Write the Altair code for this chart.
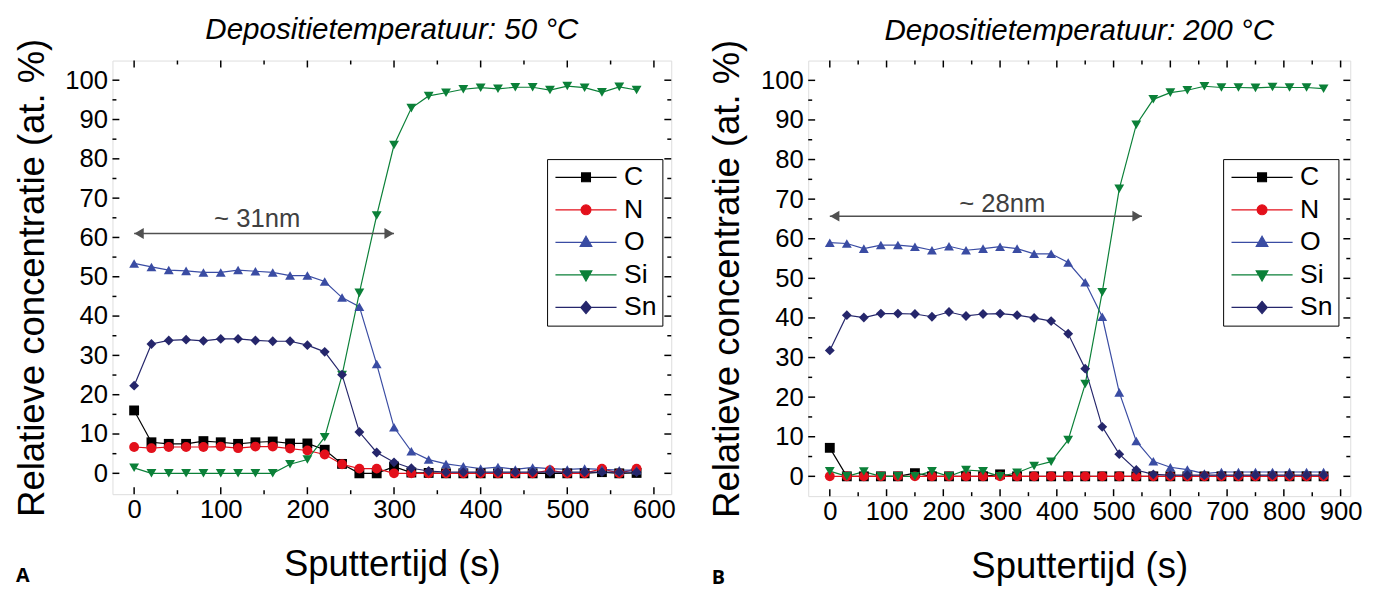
import altair as alt
import pandas as pd

FONT = "Liberation Sans"
ELEMENTS = ["C", "N", "O", "Si", "Sn"]
COLORS = ["#000000", "#e3101b", "#3a4ca3", "#0b8038", "#25266b"]
SHAPES = ["square", "circle", "triangle-up", "triangle-down", "diamond"]
# legend symbols: a line segment with the marker in its middle (scaled by sqrt(size)/2 = 10 px)
LEGEND_PATHS = [
    "M-3.1,0H3.1M-0.45,-0.45H0.45V0.45H-0.45Z",
    "M-3.1,0H3.1M-0.5,0A0.5,0.5,0,1,1,0.5,0A0.5,0.5,0,1,1,-0.5,0Z",
    "M-3.1,0H3.1M0,-0.62L0.59,0.4H-0.59Z",
    "M-3.1,0H3.1M0,0.62L0.59,-0.4H-0.59Z",
    "M-3.1,0H3.1M0,-0.62L0.53,0L0,0.62L-0.53,0Z",
]

# ---- Panel A: 50 °C ----
t_left = list(range(0, 600, 20))
C_left = [16.0, 7.9, 7.5, 7.5, 8.2, 7.9, 7.5, 7.9, 8.1, 7.6, 7.6, 6.0, 2.4, 0.0, 0.0,
          1.7, 0.2, 0.1, 0.0, 0.0, 0.0, 0.0, 0.0, 0.0, 0.0, 0.0, 0.0, 0.3, 0.0, 0.1]
N_left = [6.7, 6.4, 6.7, 6.7, 6.7, 6.8, 6.4, 6.8, 6.8, 6.3, 5.8, 4.8, 2.3, 1.2, 1.2,
          0.0, 0.0, 0.0, 0.0, 0.0, 0.0, 0.0, 0.0, 0.0, 0.8, 0.0, 0.0, 1.2, 0.0, 1.2]
O_left = [53.4, 52.5, 51.7, 51.5, 51.1, 51.1, 51.7, 51.4, 51.1, 50.3, 50.3, 48.8, 44.7, 42.4, 27.8,
          11.7, 5.6, 3.5, 2.4, 1.8, 1.2, 1.6, 1.0, 1.5, 1.2, 1.0, 1.2, 1.0, 0.8, 0.8]
Si_left = [1.4, 0.0, 0.0, 0.0, 0.0, 0.0, 0.0, 0.0, 0.0, 2.3, 3.5, 9.2, 25.0, 45.9, 65.6,
           83.5, 92.9, 96.0, 96.8, 97.7, 98.1, 97.8, 98.2, 98.2, 97.5, 98.5, 98.1, 96.9, 98.3, 97.5]
Sn_left = [22.3, 32.9, 33.8, 34.0, 33.7, 34.2, 34.2, 33.8, 33.6, 33.6, 32.6, 30.9, 25.1, 10.5, 5.3,
           2.8, 1.3, 0.6, 0.3, 0.3, 0.3, 0.3, 0.3, 0.3, 0.3, 0.3, 0.3, 0.3, 0.3, 0.3]

# ---- Panel B: 200 °C ----
t_right = list(range(0, 900, 30))
C_right = [7.2, 0.0, 0.0, 0.0, 0.0, 0.8, 0.0, 0.0, 0.0, 0.0, 0.5, 0.0, 0.0, 0.0, 0.0,
           0.0, 0.0, 0.0, 0.0, 0.0, 0.0, 0.0, 0.0, 0.0, 0.0, 0.0, 0.0, 0.0, 0.0, 0.0]
N_right = [0.0] * 30
O_right = [59.0, 58.8, 57.5, 58.4, 58.4, 58.0, 57.1, 58.1, 57.1, 57.5, 58.0, 57.5, 56.2, 56.2, 54.0,
           49.0, 40.3, 21.2, 8.9, 3.8, 2.3, 1.7, 0.7, 1.1, 1.1, 1.1, 1.1, 1.1, 1.1, 1.1]
Si_right = [1.3, 0.0, 1.2, 0.0, 0.0, 0.0, 1.3, 0.0, 1.6, 1.3, 0.0, 0.9, 2.6, 3.7, 9.2,
            23.3, 46.5, 72.6, 88.8, 95.2, 96.9, 97.5, 98.5, 98.2, 98.2, 98.1, 98.3, 98.2, 98.2, 97.9]
Sn_right = [31.8, 40.7, 40.1, 41.1, 41.1, 41.0, 40.3, 41.5, 40.5, 41.0, 41.1, 40.7, 40.0, 39.2, 36.0,
            27.2, 12.5, 5.6, 1.6, 0.5, 0.3, 0.3, 0.3, 0.3, 0.3, 0.3, 0.3, 0.3, 0.3, 0.3]

x_major_left = list(range(0, 700, 100))
x_minor_left = list(range(50, 600, 100))
x_major_right = list(range(0, 1000, 100))
x_minor_right = list(range(50, 900, 100))
y_major = list(range(0, 110, 10))
y_minor = list(range(5, 105, 10))


def long_df(t, series):
    rows = []
    for el, vals in zip(ELEMENTS, series):
        for ti, v in zip(t, vals):
            rows.append({"t": ti, "c": v, "el": el})
    return pd.DataFrame(rows)


def panel(df, xdom, ydom, xmaj, xmin, W, H, title, arrow_end, arrow_y,
          note, note_x, note_y, letter, leg_x, leg_y):
    xaxis = alt.Axis(values=xmaj, ticks=False, domain=False, grid=False,
                     labelFont=FONT, labelFontSize=26, labelColor="black", labelPadding=3,
                     labelFlush=False, format="d",
                     title="Sputtertijd (s)", titleFont=FONT, titleFontSize=37,
                     titleFontWeight="normal", titleColor="black", titlePadding=25)
    yaxis = alt.Axis(values=y_major, ticks=False, domain=False, grid=False,
                     labelFont=FONT, labelFontSize=26, labelColor="black", labelPadding=5,
                     labelFlush=False, format="d",
                     title="Relatieve concentratie (at. %)", titleFont=FONT, titleFontSize=37,
                     titleFontWeight="normal", titleColor="black", titlePadding=14)
    xs = alt.Scale(domain=xdom, nice=False, zero=False)
    ys = alt.Scale(domain=ydom, nice=False, zero=False)
    X = alt.X("t:Q", scale=xs, axis=xaxis)
    Y = alt.Y("c:Q", scale=ys, axis=yaxis)
    color = alt.Color("el:N", scale=alt.Scale(domain=ELEMENTS, range=COLORS), legend=None)

    lines = alt.Chart(df).mark_line(strokeWidth=1.2).encode(x=X, y=Y, color=color)
    points = alt.Chart(df).mark_point(filled=True, size=100, opacity=1, strokeWidth=0).encode(
        x=X, y=Y, color=color,
        shape=alt.Shape("el:N", scale=alt.Scale(domain=ELEMENTS, range=SHAPES), legend=None))

    leg = alt.Legend(title=None, orient="none", legendX=leg_x, legendY=leg_y,
                     labelFont=FONT, labelFontSize=27, labelColor="black",
                     symbolSize=400, symbolStrokeWidth=1.2, symbolOpacity=1,
                     symbolOffset=21, labelOffset=25,
                     strokeColor="black", fillColor="white", padding=5,
                     rowPadding=5)
    legend_layer = alt.Chart(df).transform_filter("false").mark_point(
        filled=True, opacity=1, strokeWidth=1.2).encode(
        x=X, y=Y,
        fill=alt.Fill("el:N", scale=alt.Scale(domain=ELEMENTS, range=COLORS), legend=leg),
        stroke=alt.Stroke("el:N", scale=alt.Scale(domain=ELEMENTS, range=COLORS), legend=leg),
        shape=alt.Shape("el:N", scale=alt.Scale(domain=ELEMENTS, range=LEGEND_PATHS), legend=leg),
    )

    arrow_df = pd.DataFrame({"t": [0, arrow_end], "c": [arrow_y, arrow_y]})
    arrow_line = alt.Chart(arrow_df).mark_line(color="#505050", strokeWidth=1.6).encode(x=X, y=Y)
    head_l = alt.Chart(arrow_df.iloc[[0]]).mark_point(
        shape="triangle-left", filled=True, size=120, opacity=1, color="#505050",
        strokeWidth=0, xOffset=5).encode(x=X, y=Y)
    head_r = alt.Chart(arrow_df.iloc[[1]]).mark_point(
        shape="triangle-right", filled=True, size=120, opacity=1, color="#505050",
        strokeWidth=0, xOffset=-5).encode(x=X, y=Y)
    note_df = pd.DataFrame({"t": [note_x], "c": [note_y], "s": [note]})
    note_txt = alt.Chart(note_df).mark_text(font=FONT, fontSize=26, color="#404040").encode(
        x=X, y=Y, text="s:N")

    layers = [lines, points, legend_layer, arrow_line, head_l, head_r, note_txt]

    # inward tick marks on all four sides
    for vals, L in ((xmaj, 7), (xmin, 4)):
        tdf = pd.DataFrame({"t": vals})
        layers.append(alt.Chart(tdf).mark_rule(color="black", strokeWidth=1.5).encode(
            x=X, y=alt.value(H), y2=alt.value(H - L)))
        layers.append(alt.Chart(tdf).mark_rule(color="black", strokeWidth=1.5).encode(
            x=X, y=alt.value(0), y2=alt.value(L)))
    for vals, L in ((y_major, 7), (y_minor, 4)):
        tdf = pd.DataFrame({"c": vals})
        layers.append(alt.Chart(tdf).mark_rule(color="black", strokeWidth=1.5).encode(
            y=Y, x=alt.value(0), x2=alt.value(L)))
        layers.append(alt.Chart(tdf).mark_rule(color="black", strokeWidth=1.5).encode(
            y=Y, x=alt.value(W), x2=alt.value(W - L)))

    letter_txt = alt.Chart(pd.DataFrame({"s": [letter]})).mark_text(
        font="Open Sans", fontSize=20, fontWeight="bold", align="left",
        baseline="alphabetic", color="black").encode(
        text="s:N", x=alt.value(-98), y=alt.value(H + 89))
    layers.append(letter_txt)

    return alt.layer(*layers).resolve_scale(
        shape="independent", fill="independent", stroke="independent"
    ).properties(
        width=W, height=H,
        title=alt.Title(title, font=FONT, fontSize=30, fontStyle="italic",
                        fontWeight="normal", color="black", offset=-7, frame="group"),
    )


left = panel(long_df(t_left, [C_left, N_left, O_left, Si_left, Sn_left]),
             [-25, 620], [-5.3, 105], x_major_left, x_minor_left, 567, 440,
             "Depositietemperatuur: 50 °C", 300, 61.0, "~ 31nm", 142, 64.6, "A", 441, 100)
right = panel(long_df(t_right, [C_right, N_right, O_right, Si_right, Sn_right]),
              [-38, 917], [-5.0, 105], x_major_right, x_minor_right, 550, 442,
              "Depositietemperatuur: 200 °C", 550, 65.7, "~ 28nm", 304, 68.7, "B", 421, 100)

chart = alt.hconcat(left, right, spacing=33).resolve_scale(
    x="independent", y="independent", color="independent", shape="independent",
    fill="independent", stroke="independent"
).properties(
    padding={"left": 5, "top": 2, "right": 5, "bottom": 2}
).configure_view(stroke="black", strokeWidth=1.5).configure(background="white")

chart.save("out.html", embed_options={"renderer": "svg", "actions": False})
